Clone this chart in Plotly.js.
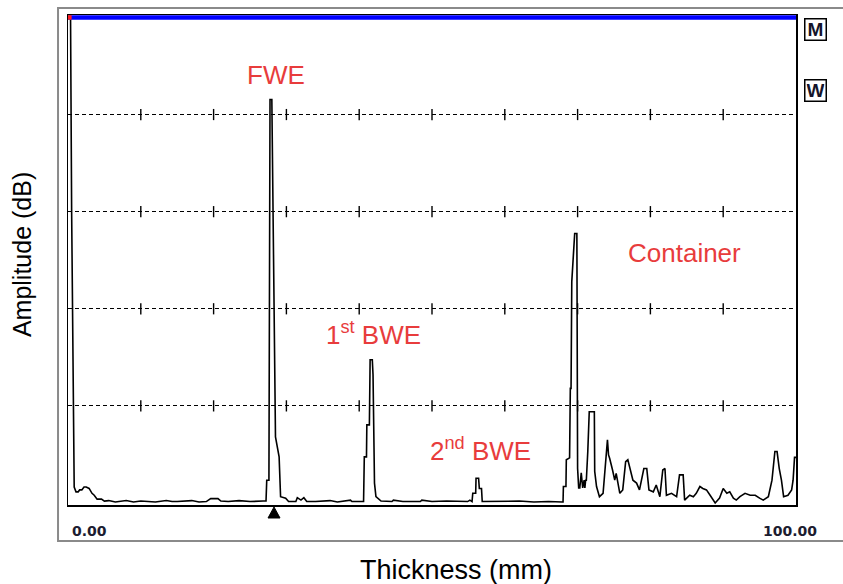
<!DOCTYPE html>
<html>
<head>
<meta charset="utf-8">
<script src="https://cdn.plot.ly/plotly-3.0.1.min.js"></script>
<style>
  html, body { margin: 0; padding: 0; background: #ffffff; }
  #scan { width: 843px; height: 584px; }
</style>
</head>
<body>
<div id="scan"></div>
<script>
// A-scan trace: thickness (mm) vs amplitude (% of full screen)
const thicknessMm = [
  0, 0.35, 0.5, 0.8, 0.85, 1.1, 1.4, 1.6, 1.9, 2.2, 2.5, 2.9, 3.3, 3.6, 4.0, 4.6, 5.0, 5.6, 6.5,
  8.0, 9.0, 10.0, 12.0, 13.5, 14.3, 15.0, 17.0, 18.0, 19.0, 19.6, 20.6, 21.0, 22.0, 23.5, 25.0, 26.8,
  27.2, 27.3, 27.6, 27.75, 28.0, 28.5, 29.0, 29.2, 29.9, 30.3, 31.3, 31.5, 32.0, 32.4, 32.8,
  34.0, 36.0, 37.0, 38.8, 39.0, 40.6,
  40.7, 41.0, 41.05, 41.4, 41.5, 41.8, 41.9, 42.0, 42.1, 42.3, 43.0,
  44.5, 44.7, 46.0, 48.4, 48.6, 50.0, 52.0, 54.9, 55.2, 55.5,
  55.6, 56.0, 56.05, 56.4, 56.5, 56.8, 56.9,
  57.5, 60.0, 62.0, 64.0, 66.0, 67.9,
  68.0, 68.05, 68.4, 68.45, 68.9, 69.0, 69.1, 69.2, 69.4, 69.6, 69.9, 70.0,
  70.15, 70.3, 70.5, 70.7, 70.9, 71.0, 71.1, 71.2, 71.4, 71.6, 72.3, 72.35, 72.6, 73.0, 73.5,
  74.1, 74.25, 74.4, 74.8, 75.1, 75.3, 75.8, 76.2, 76.6, 76.9, 77.2, 77.6, 78.1, 78.5,
  79.1, 79.5, 79.8, 80.4, 80.8, 81.3, 81.7, 82.0, 82.2, 82.9, 83.6, 84.0, 84.5, 84.7,
  85.4, 85.9, 86.3, 86.8, 87.2, 87.7, 88.2, 88.9, 89.5, 90.0, 90.5, 90.9, 91.4, 91.8,
  92.3, 93.0, 93.7, 94.4, 95.0, 95.5, 96.2, 96.7, 97.1, 97.4, 97.7, 98.0, 98.3, 98.9,
  99.4, 99.6, 99.8, 100
];
const amplitudePct = [
  100, 100, 60, 8, 3.3, 2.3, 2.3, 2.7, 2.7, 3.3, 3.3, 3.0, 2.0, 1.6, 0.8, 0.8, 0.4, 0.5, 0.2,
  0.5, 0.2, 0.4, 0.2, 0.5, 0.3, 0.3, 0.5, 0.2, 0.3, 0.9, 0.9, 0.4, 0.3, 0.5, 0.3, 0.4,
  0.4, 4.7, 4.7, 83.1, 83.1, 13.6, 9.5, 1.3, 1.0, 0.3, 0.3, 1.1, 0.6, 1.1, 0.3,
  0.3, 0.5, 0.2, 0.6, 0.3, 0.3,
  9.5, 9.5, 16.1, 16.1, 29.5, 29.5, 26.4, 12.0, 4.1, 1.3, 0.4,
  0.3, 0.6, 0.3, 0.3, 0.6, 0.3, 0.4, 0.3, 0.6, 0.3,
  2.0, 2.0, 5.1, 5.1, 3.0, 3.0, 0.3,
  0.3, 0.3, 0.4, 0.2, 0.3, 0.2,
  0.2, 3.4, 3.4, 8.9, 9.3, 23.6, 23.6, 45.6, 50.4, 55.5, 55.5, 7.1,
  3.1, 3.1, 6.2, 3.1, 4.7, 3.1, 4.7, 4.7, 10.6, 18.8, 18.8, 6.5, 3.4, 1.3, 2.0,
  13.0, 9.9, 9.2, 6.8, 4.7, 6.1, 2.0, 2.7, 8.5, 8.9, 6.8, 4.7, 4.1, 2.7,
  7.1, 7.1, 2.7, 2.3, 3.7, 1.3, 6.8, 7.1, 1.6, 2.0, 1.3, 5.8, 5.8, 0.6,
  1.6, 1.3, 2.0, 3.4, 3.0, 2.7, 1.6, 0.0, 1.0, 3.0, 2.0, 2.3, 1.0, 0.6,
  1.3, 2.0, 1.6, 1.6, 1.0, 0.6, 1.3, 4.7, 10.6, 10.6, 7.1, 4.7, 1.3, 1.6,
  2.7, 4.7, 9.4, 9.4
];

// Screen graticule
const gridLevels = [20, 40, 60, 80];
const divisionMarks = [10, 20, 30, 40, 50, 60, 70, 80, 90];
const thicknessRange = [0, 100];
const rangeLabels = ['0.00', '100.00'];
const cursorMm = 28.3;

// Echo labels: [text, thickness, amplitude]
const echoLabels = [
  ['FWE', 28.6, 88.1],
  ['1<sup>st</sup> BWE', 42.0, 35.0],
  ['2<sup>nd</sup> BWE', 56.6, 11.1],
  ['Container', 84.7, 51.5]
];

const yMin = -0.41, yMax = 100.5;

const markX = [], markY = [];
gridLevels.forEach(g => divisionMarks.forEach(d => { markX.push(d); markY.push(g); }));

const traces = [
  {
    x: thicknessMm, y: amplitudePct, type: 'scatter', mode: 'lines',
    line: { color: '#000000', width: 1.6 }, hoverinfo: 'skip'
  },
  {
    x: markX, y: markY, type: 'scatter', mode: 'markers',
    marker: { symbol: 'line-ns', size: 8, line: { color: '#000000', width: 1.4 } },
    hoverinfo: 'skip'
  },
  {
    x: thicknessRange, y: [100, 100], type: 'scatter', mode: 'lines',
    line: { color: '#0000ff', width: 4.5 }, hoverinfo: 'skip'
  },
  {
    x: [0, 0.5], y: [100, 100], type: 'scatter', mode: 'lines',
    line: { color: '#ff2020', width: 4.5 }, hoverinfo: 'skip'
  }
];

const redFont = { family: 'Arial, "Liberation Sans", sans-serif', size: 26, color: '#e83c3c' };
const titleFont = { family: 'Arial, "Liberation Sans", sans-serif', size: 26, color: '#000000' };
const tickFont = { family: '"DejaVu Sans", Verdana, sans-serif', size: 14, color: '#1c1c30', weight: 'bold' };
const boxFont = { family: 'Arial, "Liberation Sans", sans-serif', size: 19, color: '#14142a', weight: 'bold' };

const annotations = echoLabels.map(([t, x, y]) => ({
  text: t, x: x, y: y, xref: 'x', yref: 'y', showarrow: false,
  xanchor: 'center', yanchor: 'middle', font: redFont
}));

annotations.push(
  { text: rangeLabels[0], x: thicknessRange[0], y: -0.053, xref: 'x', yref: 'paper', showarrow: false,
    xanchor: 'left', yanchor: 'middle', xshift: 2, font: tickFont },
  { text: rangeLabels[1], x: thicknessRange[1], y: -0.053, xref: 'x', yref: 'paper', showarrow: false,
    xanchor: 'left', yanchor: 'middle', xshift: -35, font: tickFont },
  { text: 'Thickness (mm)', x: 0.533, y: -0.133, xref: 'paper', yref: 'paper', showarrow: false,
    xanchor: 'center', yanchor: 'middle', font: Object.assign({}, titleFont, { size: 27 }) },
  { text: 'Amplitude (dB)', x: -0.0632, y: 0.512, xref: 'paper', yref: 'paper', showarrow: false,
    xanchor: 'center', yanchor: 'middle', textangle: -90, font: Object.assign({}, titleFont, { size: 25 }) },
  { text: 'M', x: 1.0268, y: 0.9694, xref: 'paper', yref: 'paper', showarrow: false,
    xanchor: 'center', yanchor: 'middle', width: 18, height: 18, borderpad: 1,
    bordercolor: '#000000', borderwidth: 1.5, bgcolor: '#ffffff', font: boxFont },
  { text: 'W', x: 1.0268, y: 0.8469, xref: 'paper', yref: 'paper', showarrow: false,
    xanchor: 'center', yanchor: 'middle', width: 18, height: 18, borderpad: 1,
    bordercolor: '#000000', borderwidth: 1.5, bgcolor: '#ffffff', font: boxFont }
);

const layout = {
  width: 843, height: 584,
  margin: { l: 68, r: 47, t: 15, b: 79, pad: 0 },
  paper_bgcolor: '#ffffff', plot_bgcolor: '#ffffff',
  showlegend: false,
  xaxis: {
    range: thicknessRange, showgrid: false, zeroline: false, showticklabels: false,
    ticks: '', showline: true, linecolor: '#000000', linewidth: 1.5, mirror: true, fixedrange: true
  },
  yaxis: {
    range: [yMin, yMax], tickvals: gridLevels, showgrid: true, gridcolor: '#000000',
    gridwidth: 1, griddash: '4px,3px', zeroline: false, showticklabels: false, ticks: '',
    showline: true, linecolor: '#000000', linewidth: 1.5, mirror: true, fixedrange: true
  },
  shapes: [
    { type: 'rect', xref: 'paper', yref: 'paper', x0: -0.0137, x1: 1.07, y0: -0.0735, y1: 1.0143,
      line: { color: '#8a8a8a', width: 2 }, layer: 'below' },
    // cursor marker under the axis at the gate position
    { type: 'path', xref: 'x', yref: 'paper', xsizemode: 'pixel', ysizemode: 'pixel',
      xanchor: cursorMm, yanchor: 0, path: 'M -6,-13 L 6,-13 L 0,-2 Z',
      fillcolor: '#000000', line: { color: '#000000', width: 1 } }
  ],
  annotations: annotations
};

Plotly.newPlot('scan', traces, layout, { displayModeBar: false, staticPlot: true });
</script>
</body>
</html>
